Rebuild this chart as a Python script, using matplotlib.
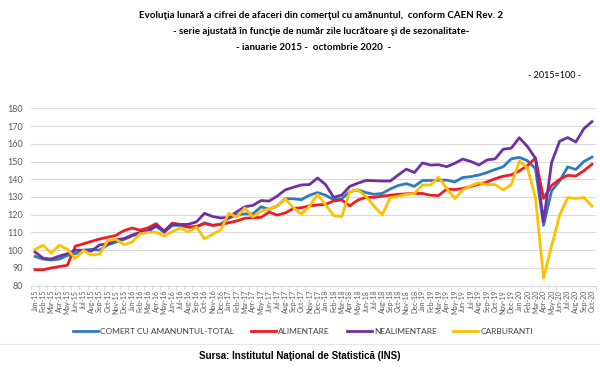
import numpy as np
import pandas as pd
from matplotlib import pyplot as plt
from matplotlib.lines import Line2D

# month labels Jan-15 .. Oct-20
months = pd.date_range("2015-01-01", "2020-10-01", freq="MS").strftime("%b-%y").tolist()

total = [96.5, 95, 94.5, 95, 97, 98, 100, 100.5, 100, 103, 104.5, 106,
         108, 109.5, 110.5, 113.5, 110, 114, 114, 113, 113, 115.5, 114, 114.7,
         118, 120, 120.5, 120.5, 124.5, 123, 125, 129, 129, 128.5, 131, 132.5,
         131, 128.5, 129, 133, 134, 132.5, 131.5, 132, 134.5, 136.5, 137.5, 136,
         139.3, 139.3, 139.5, 139.5, 138.5, 141, 141.5, 142.4, 143.8, 145.5, 147, 151.5,
         152.3, 150.5, 146, 114, 133.5, 139, 147, 145.5, 150, 152.5]

alimentare = [89, 89, 90, 90.8, 91.5, 102.3, 103.6, 105, 106.3, 107.3, 108.3, 111,
              112.5, 111.3, 112.6, 115, 110.5, 115.3, 114.5, 113, 113.4, 115, 114, 114.5,
              115.5, 116.5, 118, 118.3, 118.5, 121.5, 119.8, 121, 123.5, 124, 125, 125.5,
              125.8, 127.8, 128.3, 125, 128.3, 129.8, 129.8, 130.5, 131, 131.5, 131.8, 132,
              132, 131, 130.8, 134.5, 134.2, 134.8, 136, 137.2, 138.5, 140.3, 141.7, 142.5,
              144.7, 147.7, 152, 129.2, 136.5, 140, 142.2, 141.8, 144.8, 148.5]

nealimentare = [99, 95.5, 95, 96.7, 98, 100, 100, 99.5, 103, 103.5, 106, 106.5,
                108.5, 110, 111, 114, 111, 114.5, 114.5, 114.6, 116, 120.8, 119, 118.2,
                118.5, 121.7, 124.5, 125.3, 128, 127.7, 130.5, 134, 135.5, 136.8, 137, 140.7,
                137, 129.8, 131.1, 136, 137.8, 139.3, 139.2, 139, 139, 142.4, 145.7, 143.8,
                149.2, 148, 148.2, 147.1, 149, 151.4, 150, 148, 150.9, 151.5, 156.9, 157.5,
                163.4, 158.5, 151.8, 116, 149.5, 161.5, 163.5, 161, 168.5, 172.5]

carburanti = [100.5, 102.8, 98.3, 102.8, 100.6, 95.3, 99.9, 97.3, 97.8, 105.3, 106.2, 103.2,
              104.5, 109.2, 110, 110.2, 108, 110.5, 112.5, 110.5, 113, 106.4, 109, 111.5,
              120.8, 118.7, 123.8, 118.7, 122.2, 123.2, 125, 129, 124, 120.3, 124.8, 131.5,
              125.5, 119.5, 119, 133, 134, 130.4, 124.8, 120, 129.5, 130.4, 131.4, 132,
              136.8, 136.8, 141.2, 134.9, 129.2, 134, 136.4, 138, 137, 137, 134, 137,
              150.2, 146.5, 129.7, 84.2, 102.5, 119.9, 129.7, 129.2, 129.7, 124.9]

series = [("COMERT CU AMANUNTUL-TOTAL", total, "#2E7CC0"),
          ("ALIMENTARE", alimentare, "#EE1C25"),
          ("NEALIMENTARE", nealimentare, "#7030A0"),
          ("CARBURANTI", carburanti, "#FFC000")]

plt.rcParams["font.family"] = ["Lato", "DejaVu Sans"]

fig = plt.figure(figsize=(6, 3.71), dpi=100)
ax = fig.add_axes([31 / 600, 1 - 285.7 / 371, 565 / 600, (285.7 - 108.3) / 371])

x = np.arange(len(months))
for name, vals, color in series:
    ax.plot(x, vals, color=color, lw=2.0, label=name, solid_joinstyle="round")

ax.set_xlim(-0.5, len(months) - 0.5)
ax.set_ylim(80, 180)
ax.set_yticks(range(80, 181, 10))
ax.grid(axis="y", color="#d9d9d9", lw=0.8)
ax.set_axisbelow(True)
for s in ["top", "right", "left"]:
    ax.spines[s].set_visible(False)
ax.spines["bottom"].set_color("#d9d9d9")
ax.tick_params(axis="y", length=0, labelsize=6.5, labelcolor="#595959", pad=6)
ax.set_xticks(x)
ax.set_xticklabels(months, rotation=90, fontsize=5, color="#595959")
ax.tick_params(axis="x", length=0, pad=3)
ax.set_xticks(np.arange(-0.5, len(months), 1), minor=True)
ax.tick_params(axis="x", which="minor", length=3, color="#d9d9d9")

fig.text(0.535, 1 - 16 / 371,
         "Evoluţia lunară a cifrei de afaceri din comerţul cu amănuntul,  conform CAEN Rev. 2",
         ha="center", va="center", fontsize=7, fontweight="bold")
fig.text(0.535, 1 - 32 / 371,
         "- serie ajustată în funcţie de număr zile lucrătoare şi de sezonalitate-",
         ha="center", va="center", fontsize=7, fontweight="bold")
fig.text(0.523, 1 - 48 / 371, "- ianuarie 2015 -  octombrie 2020  -",
         ha="center", va="center", fontsize=7, fontweight="bold")
fig.text(0.968, 1 - 76 / 371, "- 2015=100 -", ha="right", va="center", fontsize=6.5)

handles = [Line2D([], [], color=c, lw=2.0) for _, _, c in series]
fig.legend(handles, [n for n, _, _ in series], loc="center", bbox_to_anchor=(0.505, 1 - 331 / 371),
           ncol=4, frameon=False, fontsize=6, handlelength=3.0, columnspacing=2.0,
           handletextpad=0.3, labelcolor="#404040")

fig.add_artist(Line2D([0.0, 1.0], [1 - 344 / 371] * 2, color="#e6e6e6", lw=0.8))
fig.text(0.5, 1 - 356 / 371, "Sursa: Institutul Naţional de Statistică (INS)",
         ha="center", va="center", fontsize=7, fontweight="bold", family=["Liberation Sans", "DejaVu Sans"])

fig.savefig("out.png", dpi=100)
